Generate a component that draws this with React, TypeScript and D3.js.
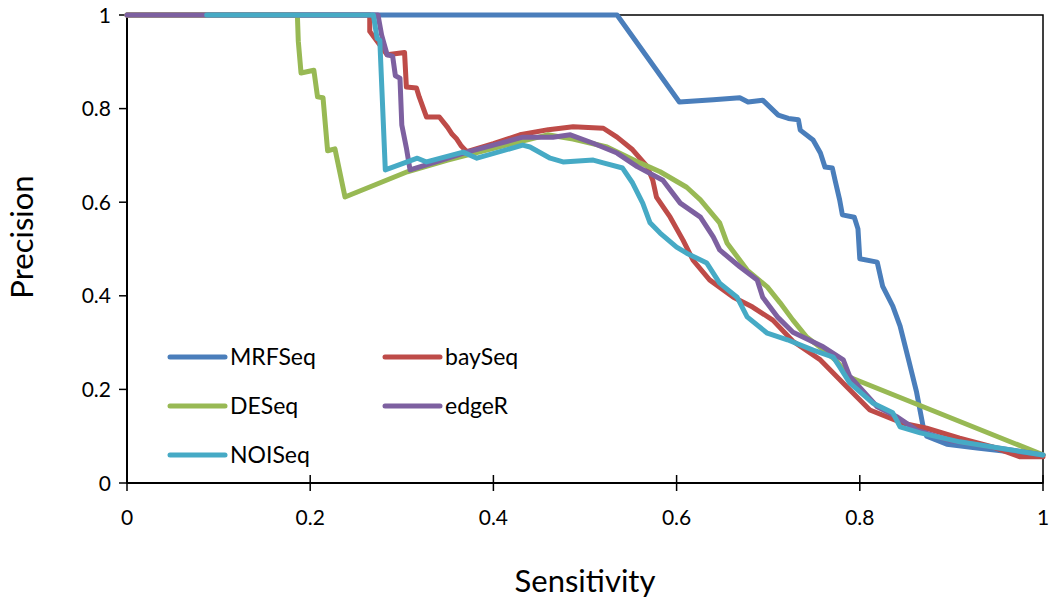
import React from "react";
import * as d3 from "d3";

type Pt = [number, number];

const xTicks = [0, 0.2, 0.4, 0.6, 0.8, 1];
const yTicks = [0, 0.2, 0.4, 0.6, 0.8, 1];

const mrfSeq: Pt[] = [
  [0, 1], [0.535, 1], [0.603, 0.814], [0.64, 0.819], [0.669, 0.823], [0.678, 0.814],
  [0.694, 0.818], [0.711, 0.786], [0.722, 0.779], [0.733, 0.776], [0.735, 0.754],
  [0.749, 0.733], [0.757, 0.705], [0.762, 0.675], [0.77, 0.673], [0.773, 0.647],
  [0.778, 0.605], [0.781, 0.573], [0.794, 0.568], [0.798, 0.543], [0.8, 0.479],
  [0.819, 0.472], [0.825, 0.42], [0.836, 0.378], [0.844, 0.335], [0.853, 0.265],
  [0.862, 0.194], [0.869, 0.122], [0.873, 0.1], [0.895, 0.083], [0.928, 0.075],
  [0.964, 0.067], [1, 0.06],
];

const baySeq: Pt[] = [
  [0, 1], [0.265, 1], [0.265, 0.965], [0.284, 0.915], [0.303, 0.92], [0.305, 0.846],
  [0.316, 0.844], [0.319, 0.825], [0.327, 0.782], [0.341, 0.782], [0.35, 0.76],
  [0.355, 0.745], [0.36, 0.735], [0.365, 0.72], [0.371, 0.708], [0.4, 0.725],
  [0.429, 0.744], [0.46, 0.755], [0.487, 0.761], [0.52, 0.758], [0.535, 0.739],
  [0.552, 0.712], [0.568, 0.676], [0.574, 0.647], [0.578, 0.611], [0.593, 0.568],
  [0.607, 0.519], [0.618, 0.476], [0.636, 0.434], [0.662, 0.397], [0.683, 0.376],
  [0.705, 0.348], [0.727, 0.303], [0.757, 0.263], [0.786, 0.205], [0.811, 0.156],
  [0.847, 0.128], [0.873, 0.117], [0.909, 0.096], [0.945, 0.077], [0.975, 0.056],
  [1, 0.056],
];

const deSeq: Pt[] = [
  [0, 1], [0.186, 1], [0.187, 0.944], [0.19, 0.876], [0.204, 0.882], [0.208, 0.825],
  [0.214, 0.823], [0.219, 0.71], [0.227, 0.714], [0.238, 0.611], [0.306, 0.665],
  [0.35, 0.69], [0.4, 0.715], [0.459, 0.744], [0.487, 0.735], [0.524, 0.718],
  [0.56, 0.684], [0.582, 0.665], [0.611, 0.632], [0.626, 0.605], [0.647, 0.556],
  [0.655, 0.513], [0.677, 0.455], [0.699, 0.419], [0.713, 0.385], [0.727, 0.348],
  [0.742, 0.312], [0.76, 0.285], [0.775, 0.26], [0.789, 0.226], [1, 0.06],
];

const edgeR: Pt[] = [
  [0, 1], [0.274, 1], [0.278, 0.957], [0.284, 0.915], [0.29, 0.912], [0.293, 0.87],
  [0.298, 0.865], [0.3, 0.765], [0.305, 0.716], [0.309, 0.669], [0.34, 0.688],
  [0.371, 0.707], [0.4, 0.722], [0.432, 0.739], [0.465, 0.739], [0.484, 0.744],
  [0.509, 0.726], [0.535, 0.705], [0.557, 0.676], [0.585, 0.647], [0.604, 0.598],
  [0.626, 0.568], [0.64, 0.526], [0.647, 0.498], [0.669, 0.462], [0.688, 0.434],
  [0.694, 0.397], [0.71, 0.355], [0.727, 0.322], [0.76, 0.291], [0.782, 0.263],
  [0.789, 0.228], [0.819, 0.163], [0.841, 0.141], [0.862, 0.113], [0.9, 0.09],
  [0.95, 0.075], [1, 0.06],
];

const noiSeq: Pt[] = [
  [0.087, 1], [0.269, 1], [0.273, 0.95], [0.276, 0.946], [0.282, 0.669], [0.317, 0.694],
  [0.327, 0.686], [0.367, 0.707], [0.382, 0.694], [0.432, 0.722], [0.44, 0.718],
  [0.462, 0.694], [0.476, 0.686], [0.509, 0.69], [0.52, 0.684], [0.541, 0.673],
  [0.552, 0.641], [0.563, 0.598], [0.571, 0.556], [0.582, 0.534], [0.6, 0.504],
  [0.611, 0.491], [0.633, 0.47], [0.647, 0.427], [0.666, 0.397], [0.677, 0.355],
  [0.699, 0.32], [0.721, 0.306], [0.749, 0.284], [0.771, 0.269], [0.778, 0.248],
  [0.789, 0.214], [0.814, 0.171], [0.836, 0.15], [0.844, 0.12], [0.866, 0.107],
  [0.909, 0.088], [0.945, 0.077], [1, 0.06],
];

const seriesNames = ["MRFSeq", "baySeq", "DESeq", "edgeR", "NOISeq"];
const seriesData = [mrfSeq, baySeq, deSeq, edgeR, noiSeq];
const seriesColors = ["#4a7ebb", "#be4b48", "#98b954", "#7d60a0", "#46aac5"];

const FONT = "Lato, 'Open Sans', sans-serif";

export default function App() {
  const W = 1051, H = 605;
  const left = 127, right = 1043, top = 15, bottom = 483;
  const x = d3.scaleLinear().domain([0, 1]).range([left, right]);
  const y = d3.scaleLinear().domain([0, 1]).range([bottom, top]);
  const line = d3.line<Pt>().x(d => x(d[0])).y(d => y(d[1]));

  const legendPos = [
    { lx: 170, ly: 357 },
    { lx: 385, ly: 357 },
    { lx: 170, ly: 406 },
    { lx: 385, ly: 406 },
    { lx: 170, ly: 455 },
  ];

  return (
    <svg width={W} height={H} style={{ position: "absolute", left: 0, top: 0, background: "#fff" }}>
      <rect x={0} y={0} width={W} height={H} fill="#fff" />
      <rect x={left} y={top} width={right - left} height={bottom - top} fill="none" stroke="#000" strokeWidth={1.5} />
      <line x1={left} x2={left} y1={top} y2={bottom} stroke="#000" strokeWidth={2} />
      <line x1={left} x2={right} y1={bottom} y2={bottom} stroke="#000" strokeWidth={2} />
      {yTicks.map(t => (
        <g key={"y" + t}>
          <line x1={left - 8} x2={left} y1={y(t)} y2={y(t)} stroke="#000" strokeWidth={1.5} />
          <text x={111} y={y(t)} dy="0.36em" textAnchor="end" fontFamily={FONT} fontSize={21} fill="#000">
            {d3.format("~g")(t)}
          </text>
        </g>
      ))}
      {xTicks.map(t => (
        <g key={"x" + t}>
          <line x1={x(t)} x2={x(t)} y1={bottom - 8} y2={bottom + 8} stroke="#000" strokeWidth={1.5} />
          <text x={x(t)} y={525} textAnchor="middle" fontFamily={FONT} fontSize={21} fill="#000">
            {d3.format("~g")(t)}
          </text>
        </g>
      ))}
      {seriesData.map((s, i) => (
        <path key={seriesNames[i]} d={line(s) || ""} fill="none" stroke={seriesColors[i]} strokeWidth={5}
          strokeLinejoin="round" strokeLinecap="round" />
      ))}
      <text x={585} y={592} textAnchor="middle" fontFamily={FONT} fontSize={31} fill="#000">Sensitivity</text>
      <text transform="translate(33,237) rotate(-90)" textAnchor="middle" fontFamily={FONT} fontSize={31} fill="#000">Precision</text>
      {seriesNames.map((n, i) => (
        <g key={"lg" + n}>
          <line x1={legendPos[i].lx} x2={legendPos[i].lx + 55} y1={legendPos[i].ly} y2={legendPos[i].ly}
            stroke={seriesColors[i]} strokeWidth={5} strokeLinecap="round" />
          <text x={legendPos[i].lx + 60} y={legendPos[i].ly} dy="0.36em" fontFamily={FONT} fontSize={23} fill="#000">{n}</text>
        </g>
      ))}
    </svg>
  );
}
